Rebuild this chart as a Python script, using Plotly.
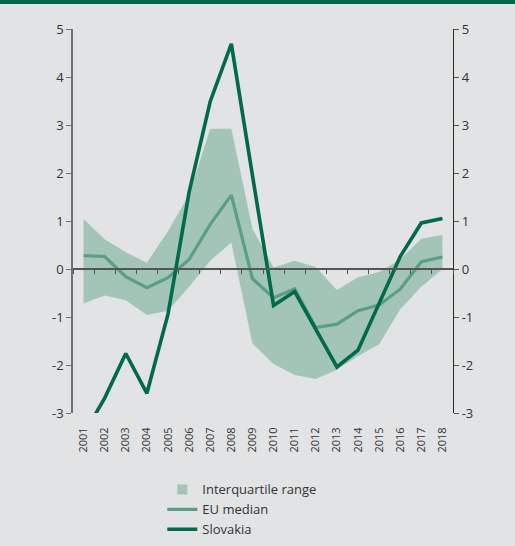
import plotly.graph_objects as go

years = [str(y) for y in range(2001, 2019)]
slovakia = [-3.45, -2.69, -1.76, -2.59, -0.94, 1.6, 3.49, 4.69, 1.95, -0.76,
            -0.47, -1.25, -2.04, -1.69, -0.72, 0.26, 0.96, 1.05]
eu_median = [0.28, 0.26, -0.16, -0.39, -0.18, 0.2, 0.93, 1.54, -0.2, -0.6,
             -0.41, -1.22, -1.15, -0.87, -0.75, -0.42, 0.15, 0.25]
iqr_upper = [1.04, 0.62, 0.35, 0.13, 0.79, 1.55, 2.92, 2.92, 0.84, 0.03,
             0.17, 0.04, -0.44, -0.17, -0.06, 0.2, 0.63, 0.71]
iqr_lower = [-0.72, -0.55, -0.65, -0.96, -0.87, -0.37, 0.17, 0.55, -1.55, -1.98,
             -2.21, -2.29, -2.1, -1.81, -1.57, -0.84, -0.37, 0.0]
y_ticks = [-3, -2, -1, 0, 1, 2, 3, 4, 5]
y_ticktext = [str(v) for v in y_ticks]  # plain hyphen minus, as in the original

BG = "#E1E3E5"
FILL = "#A3C5B8"
MED = "#5B9E86"
SVK = "#006A4B"
TXT = "#333333"
FONT = "Open Sans"

fig = go.Figure()
fig.add_trace(go.Scatter(x=years, y=iqr_lower, mode="lines", line=dict(width=0, color=FILL),
                         showlegend=False, hoverinfo="skip"))
fig.add_trace(go.Scatter(x=years, y=iqr_upper, mode="lines", line=dict(width=0, color=FILL),
                         fill="tonexty", fillcolor=FILL, showlegend=False, hoverinfo="skip"))
# legend proxy for the range
fig.add_trace(go.Scatter(x=[years[0]], y=[None], mode="markers", name="Interquartile range",
                         marker=dict(symbol="square", size=10, color=FILL)))
fig.add_trace(go.Scatter(x=years, y=eu_median, mode="lines", name="EU median",
                         line=dict(color=MED, width=3.2)))
fig.add_trace(go.Scatter(x=years, y=slovakia, mode="lines", name="Slovakia",
                         line=dict(color=SVK, width=3.6)))
# dummy traces to activate the secondary axes
fig.add_trace(go.Scatter(x=years, y=[None] * len(years), xaxis="x2", yaxis="y",
                         showlegend=False, hoverinfo="skip"))
fig.add_trace(go.Scatter(x=years, y=[None] * len(years), xaxis="x", yaxis="y2",
                         showlegend=False, hoverinfo="skip"))

fig.update_layout(
    width=515, height=546, autosize=False,
    margin=dict(l=73, r=62, t=29, b=133, autoexpand=False),
    paper_bgcolor=BG, plot_bgcolor=BG,
    font=dict(family=FONT, color=TXT, size=13),
    xaxis=dict(type="category", categoryorder="array", categoryarray=years,
               range=[-0.5, len(years) - 0.5], showgrid=False, zeroline=False,
               showline=False, ticks="outside", ticklen=9, tickcolor="rgba(0,0,0,0)",
               tickangle=-90, tickfont=dict(size=11, color=TXT), automargin=False),
    xaxis2=dict(type="category", categoryorder="array", categoryarray=years,
                range=[-0.5, len(years) - 0.5], overlaying="x", anchor="free",
                position=(0 - y_ticks[0]) / (y_ticks[-1] - y_ticks[0]),
                showgrid=False, zeroline=False, showline=True, linecolor="#555555",
                linewidth=1.5, ticks="outside", tickson="boundaries", ticklen=4,
                tickcolor="#555555", tickwidth=1, showticklabels=False, automargin=False),
    yaxis=dict(range=[y_ticks[0], y_ticks[-1]], tickvals=y_ticks, ticktext=y_ticktext,
               showgrid=False, zeroline=False, showline=True, linecolor="#707070",
               linewidth=1.5, ticks="outside", ticklen=5, tickcolor="#707070", tickwidth=1,
               tickfont=dict(size=13, color=TXT), automargin=False),
    yaxis2=dict(range=[y_ticks[0], y_ticks[-1]], tickvals=y_ticks, ticktext=y_ticktext,
                overlaying="y", side="right", anchor="x", showgrid=False, zeroline=False,
                showline=True, linecolor="#2b2b2b", linewidth=1.2, ticks="outside",
                ticklen=5, tickcolor="#555555", tickwidth=1,
                tickfont=dict(size=13, color=TXT), automargin=False),
    legend=dict(x=0.235, y=-0.16, xanchor="left", yanchor="top", traceorder="normal",
                bgcolor="rgba(0,0,0,0)", font=dict(size=13, color=TXT),
                tracegroupgap=0, itemwidth=30),
    showlegend=True,
    shapes=[dict(type="rect", xref="paper", yref="paper",
                 x0=-73 / 380, x1=1 + 62 / 380, y0=1 + 25 / 384, y1=1 + 30 / 384,
                 fillcolor="#00684A", line=dict(width=0), layer="above")],
)

fig.write_html(
    "out.html",
    config={"displayModeBar": False},
    post_script="document.body.style.margin='0';document.body.style.background='%s';" % BG,
)
